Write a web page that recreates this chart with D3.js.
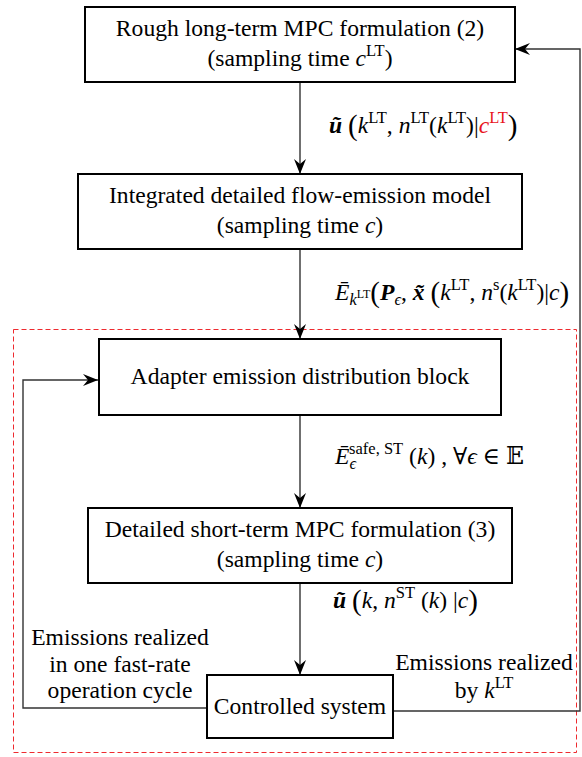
<!DOCTYPE html>
<html>
<head>
<meta charset="utf-8">
<script src="https://cdn.jsdelivr.net/npm/d3@7"></script>
<style>
  html, body { margin: 0; padding: 0; background: #fff; }
  svg { display: block; }
</style>
</head>
<body>
<div id="chart"></div>
<script>
// ---- data ----
var boxTitles = [
  "Rough long-term MPC formulation (2)",
  "Integrated detailed flow-emission model",
  "Adapter emission distribution block",
  "Detailed short-term MPC formulation (3)",
  "Controlled system"
];
// second line "(sampling time c^sup)", null = no second line
var samplingTimes = [["c", "LT"], ["c", ""], null, ["c", ""], null];

// labels on the downward arrows, as [text, kind, colour, dx]
var edgeLabels = [
  [["ũ", "bi"], [" ", "n"], ["(", "bg"], ["k", "i"], ["LT", "sp"], [", ", "n"], ["n", "i"], ["LT", "sp"],
   ["(", "n"], ["k", "i"], ["LT", "sp"], [")|", "n"], ["c", "i", "#e8141c"], ["LT", "sp", "#e8141c"], [")", "bg"]],
  [["Ē", "i"], ["k", "sb"], ["LT", "sbsp"], ["(", "bg"], ["P", "bi"], ["ϵ", "sb"], [", ", "n"], ["x̃", "bi"], [" ", "n"],
   ["(", "bg"], ["k", "i"], ["LT", "sp"], [", ", "n"], ["n", "i"], ["s", "sp"], ["(", "n"], ["k", "i"], ["LT", "sp"],
   [")|", "n"], ["c", "i"], [")", "bg"]],
  [["Ē", "i"], ["ϵ", "sb"], ["safe, ST", "sp", null, -7], [" (", "n"], ["k", "i"], [")", "n"], [" , ∀", "n"], ["ϵ", "i"],
   [" ∈ ", "n"], ["𝔼", "n"]],
  [["ũ", "bi"], [" ", "n"], ["(", "bg"], ["k", "i"], [", ", "n"], ["n", "i"], ["ST", "sp"], [" (", "n"], ["k", "i"],
   [") |", "n"], ["c", "i"], [")", "bg"]]
];

var leftNote = ["Emissions realized", "in one fast-rate", "operation cycle"];
var rightNote = [[["Emissions realized", "n"]], [["by ", "n"], ["k", "i"], ["LT", "sp"]]];

// ---- layout ----
var width = 582, height = 757, cx = 300;
var rowY = [44.5, 211.5, 377, 545.5, 706.5];
var boxW = [430, 444, 402, 424, 186];
var boxH = [75, 75, 76, 75, 63];
var edgeLabelPos = [[329, 133], [335, 300], [335, 464], [333, 608]];
var FONT = "'Liberation Serif', 'Times New Roman', Times, 'DejaVu Serif', serif";

var yOf = d3.scaleOrdinal().domain(boxTitles).range(rowY);
var wOf = d3.scaleOrdinal().domain(boxTitles).range(boxW);
var hOf = d3.scaleOrdinal().domain(boxTitles).range(boxH);

var KIND = {
  n:    { size: 23.6, style: "normal", weight: "normal", shift: 0 },
  i:    { size: 23.6, style: "italic", weight: "normal", shift: 0 },
  bi:   { size: 23.6, style: "italic", weight: "bold", shift: 0 },
  sp:   { size: 16.5, style: "normal", weight: "normal", shift: -10 },
  sb:   { size: 16.5, style: "italic", weight: "normal", shift: 5 },
  sbsp: { size: 12, style: "normal", weight: "normal", shift: -2 },
  bg:   { size: 29, style: "normal", weight: "normal", shift: 2 }
};

function rich(textSel, segs) {
  var cur = 0;
  segs.forEach(function (s) {
    var k = KIND[s[1]];
    var ts = textSel.append("tspan")
      .attr("font-size", k.size)
      .attr("font-style", k.style)
      .attr("font-weight", k.weight)
      .attr("dy", k.shift - cur)
      .text(s[0]);
    if (s[2]) ts.attr("fill", s[2]);
    if (s[3]) ts.attr("dx", s[3]);
    cur = k.shift;
  });
}

var svg = d3.select("#chart").append("svg")
  .attr("width", width)
  .attr("height", height)
  .attr("font-family", FONT)
  .style("font-family", FONT);

var defs = svg.append("defs");
defs.append("marker")
  .attr("id", "arr")
  .attr("viewBox", "-16 -7 17 14")
  .attr("refX", 0)
  .attr("refY", 0)
  .attr("markerWidth", 17)
  .attr("markerHeight", 14)
  .attr("markerUnits", "userSpaceOnUse")
  .attr("orient", "auto")
  .append("path")
  .attr("d", "M0,0L-15,-6L-10,0L-15,6Z")
  .attr("fill", "#000");

// red dashed frame around the fast loop
svg.append("rect")
  .attr("x", 13.5).attr("y", 329.5)
  .attr("width", 563).attr("height", 423)
  .attr("fill", "none")
  .attr("stroke", "#ee2a2f")
  .attr("stroke-width", 1)
  .attr("stroke-dasharray", "5,3");

var line = d3.line();
var links = svg.append("g").attr("class", "links");

// downward arrows between consecutive boxes
links.selectAll("path.down")
  .data(d3.pairs(boxTitles))
  .enter().append("path")
  .attr("class", "down")
  .attr("d", function (p) {
    return line([[cx, yOf(p[0]) + hOf(p[0]) / 2], [cx, yOf(p[1]) - hOf(p[1]) / 2]]);
  })
  .attr("fill", "none")
  .attr("stroke", "#333")
  .attr("stroke-width", 1.4)
  .attr("marker-end", "url(#arr)");

// feedback loops
var sys = boxTitles[4], adapter = boxTitles[2], rough = boxTitles[0];
var feedback = [
  [[cx - wOf(sys) / 2, 708], [23, 708], [23, 380], [cx - wOf(adapter) / 2 - 1, 380]],
  [[cx + wOf(sys) / 2, 711], [580, 711], [580, 49], [cx + wOf(rough) / 2, 49]]
];
links.selectAll("path.fb")
  .data(feedback)
  .enter().append("path")
  .attr("class", "fb")
  .attr("d", line)
  .attr("fill", "none")
  .attr("stroke", "#333")
  .attr("stroke-width", 1.4)
  .attr("marker-end", "url(#arr)");

// boxes
var box = svg.append("g").attr("class", "boxes")
  .selectAll("g")
  .data(boxTitles)
  .enter().append("g")
  .attr("transform", function (d) { return "translate(" + cx + "," + yOf(d) + ")"; });

box.append("rect")
  .attr("x", function (d) { return -wOf(d) / 2; })
  .attr("y", function (d) { return -hOf(d) / 2; })
  .attr("width", wOf)
  .attr("height", hOf)
  .attr("fill", "#fff")
  .attr("stroke", "#000")
  .attr("stroke-width", 2);

box.each(function (d, i) {
  var g = d3.select(this);
  var st = samplingTimes[i];
  g.append("text")
    .attr("text-anchor", "middle")
    .attr("y", st ? -9 : 7)
    .attr("font-size", 23.6)
    .text(d);
  if (st) {
    var t2 = g.append("text")
      .attr("text-anchor", "middle")
      .attr("y", 21);
    var segs = [["(sampling time ", "n"], [st[0], "i"]];
    if (st[1]) segs.push([st[1], "sp"]);
    segs.push([")", "n"]);
    rich(t2, segs);
  }
});

// arrow labels
svg.append("g").attr("class", "edge-labels")
  .selectAll("text")
  .data(edgeLabels)
  .enter().append("text")
  .attr("x", function (d, i) { return edgeLabelPos[i][0]; })
  .attr("y", function (d, i) { return edgeLabelPos[i][1]; })
  .each(function (d) { rich(d3.select(this), d); });

// side notes on the feedback paths
svg.append("g").attr("class", "left-note")
  .selectAll("text")
  .data(leftNote)
  .enter().append("text")
  .attr("x", 120)
  .attr("y", function (d, i) { return 645 + i * 26.5; })
  .attr("text-anchor", "middle")
  .attr("font-size", 23.6)
  .text(function (d) { return d; });

svg.append("g").attr("class", "right-note")
  .selectAll("text")
  .data(rightNote)
  .enter().append("text")
  .attr("x", 484)
  .attr("y", function (d, i) { return 670 + i * 28; })
  .attr("text-anchor", "middle")
  .each(function (d) { rich(d3.select(this), d); });
</script>
</body>
</html>
